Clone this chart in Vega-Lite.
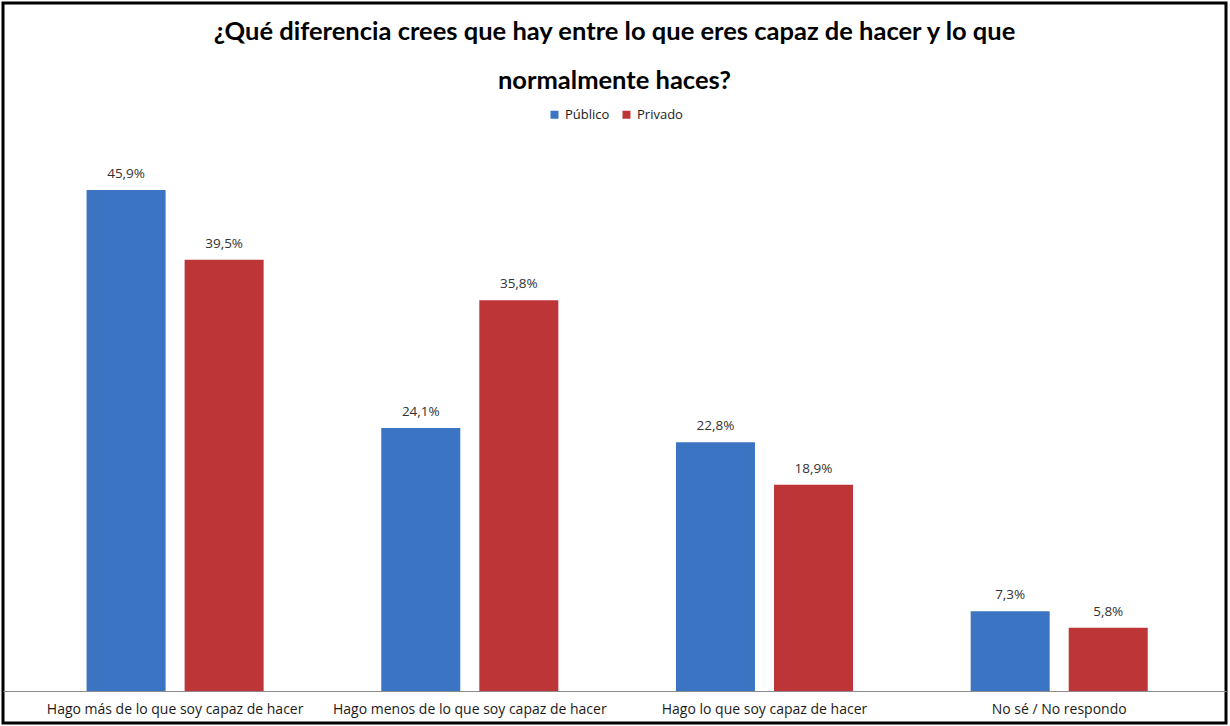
{
  "$schema": "https://vega.github.io/schema/vega-lite/v6.json",
  "width": 1223,
  "height": 720,
  "autosize": {"type": "none"},
  "padding": {"left": 3, "top": 3, "right": 4, "bottom": 3},
  "background": "white",
  "title": {
    "text": ["¿Qué diferencia crees que hay entre lo que eres capaz de hacer y lo que", "normalmente haces?"],
    "font": "Lato",
    "fontSize": 25.5,
    "fontWeight": "bold",
    "color": "#000000",
    "lineHeight": 49,
    "anchor": "middle",
    "offset": -91
  },
  "data": {
    "values": [
      {"respuesta": "Hago más de lo que soy capaz de hacer", "sector": "Público", "valor": 45.9, "etiqueta": "45,9%"},
      {"respuesta": "Hago más de lo que soy capaz de hacer", "sector": "Privado", "valor": 39.5, "etiqueta": "39,5%"},
      {"respuesta": "Hago menos de lo que soy capaz de hacer", "sector": "Público", "valor": 24.1, "etiqueta": "24,1%"},
      {"respuesta": "Hago menos de lo que soy capaz de hacer", "sector": "Privado", "valor": 35.8, "etiqueta": "35,8%"},
      {"respuesta": "Hago lo que soy capaz de hacer", "sector": "Público", "valor": 22.8, "etiqueta": "22,8%"},
      {"respuesta": "Hago lo que soy capaz de hacer", "sector": "Privado", "valor": 18.9, "etiqueta": "18,9%"},
      {"respuesta": "No sé / No respondo", "sector": "Público", "valor": 7.3, "etiqueta": "7,3%"},
      {"respuesta": "No sé / No respondo", "sector": "Privado", "valor": 5.8, "etiqueta": "5,8%"}
    ]
  },
  "encoding": {
    "x": {
      "field": "respuesta",
      "type": "nominal",
      "sort": ["Hago más de lo que soy capaz de hacer", "Hago menos de lo que soy capaz de hacer", "Hago lo que soy capaz de hacer", "No sé / No respondo"],
      "scale": {"paddingInner": 0, "paddingOuter": 0.075, "align": 0.56},
      "axis": {
        "title": null,
        "labelAngle": 0,
        "labelLimit": 0,
        "ticks": false,
        "grid": false,
        "domainColor": "#8c8c8c",
        "domainWidth": 1,
        "offset": -32,
        "labelFont": "Open Sans",
        "labelFontSize": 14,
        "labelColor": "#1a1a1a",
        "labelPadding": 11
      }
    },
    "xOffset": {
      "field": "sector",
      "type": "nominal",
      "sort": ["Público", "Privado"],
      "scale": {"paddingInner": 0.194, "paddingOuter": 0.6}
    },
    "y": {
      "field": "valor",
      "type": "quantitative",
      "scale": {"domain": [-2.93, 63.03], "nice": false, "zero": false},
      "axis": null
    }
  },
  "layer": [
    {
      "mark": {"type": "bar"},
      "encoding": {
        "color": {
          "field": "sector",
          "type": "nominal",
          "sort": ["Público", "Privado"],
          "scale": {"domain": ["Público", "Privado"], "range": ["#3A74C2", "#BE3538"]},
          "legend": {
            "orient": "none",
            "legendX": 545,
            "legendY": 105,
            "direction": "horizontal",
            "title": null,
            "symbolType": "square",
            "symbolSize": 64,
            "symbolStrokeWidth": 0,
            "labelFont": "Open Sans",
            "labelFontSize": 13,
            "labelColor": "#1a1a1a",
            "columnPadding": 10
          }
        }
      }
    },
    {
      "mark": {"type": "text", "baseline": "bottom", "dy": -9, "font": "Open Sans", "fontSize": 13.5, "color": "#333333"},
      "encoding": {"text": {"field": "etiqueta"}}
    }
  ],
  "config": {"view": {"stroke": "#000000", "strokeWidth": 3}}
}
